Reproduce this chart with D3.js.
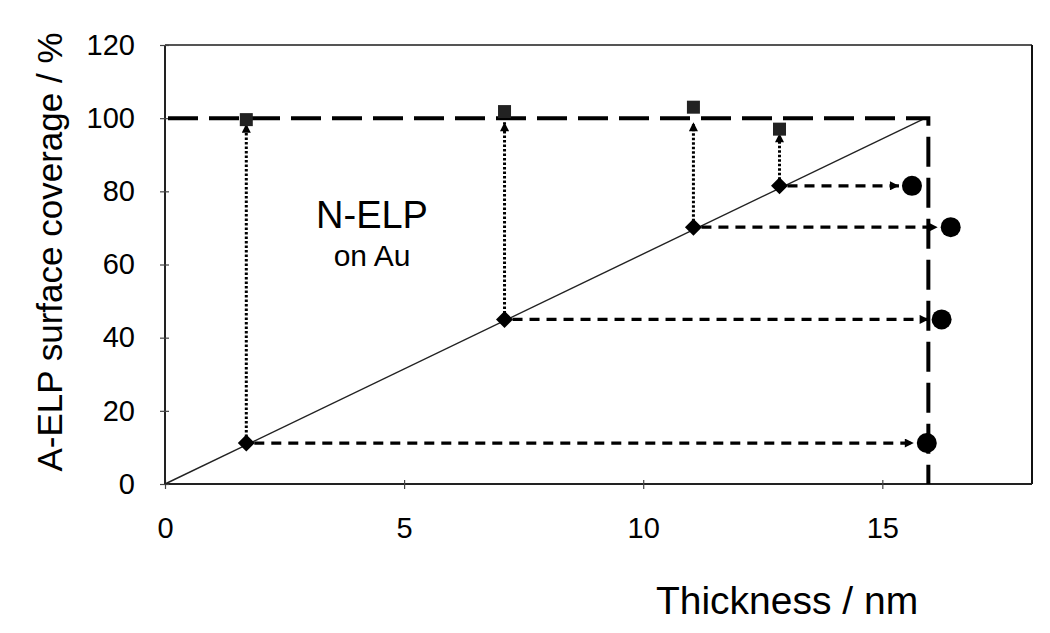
<!DOCTYPE html>
<html><head><meta charset="utf-8">
<script src="https://cdn.jsdelivr.net/npm/d3@7"></script>
<style>body{margin:0;background:#fff}svg{display:block}text{font-family:"Liberation Sans",Arial,sans-serif;fill:#000}</style>
</head><body><svg id="c" width="1050" height="633"></svg>
<script>
const xTicks = [0, 5, 10, 15];
const yTicks = [0, 20, 40, 60, 80, 100, 120];
const thickness = [1.7, 7.1, 11.05, 12.85];          // diamonds (x)
const nelpCoverage = [11.2, 45.0, 70.2, 81.5];       // diamonds (y)
const aelpCoverage = [99.6, 101.8, 103.0, 97.0];     // squares (y)
const circleThickness = [15.93, 16.24, 16.43, 15.62];// circles (x)
const fullThickness = 15.9;   // corner of dashed guide
const fullCoverage = 100;

const svg = d3.select('#c');
const m = {l:165, r:1032, t:45, b:484};
const x = d3.scaleLinear().domain([0, 18.13]).range([m.l, m.r]);
const y = d3.scaleLinear().domain([0, 120]).range([m.b, m.t]);

const defs = svg.append('defs');
defs.append('marker').attr('id','ah').attr('viewBox','0 0 10 10').attr('refX',10).attr('refY',5)
  .attr('markerWidth',10).attr('markerHeight',9).attr('markerUnits','userSpaceOnUse').attr('orient','auto')
  .append('path').attr('d','M0,0L10,5L0,10Z').attr('fill','#000');

// frame
svg.append('line').attr('x1',m.l).attr('x2',m.r).attr('y1',m.t).attr('y2',m.t).attr('stroke','#555').attr('stroke-width',2);
svg.append('line').attr('x1',m.r).attr('x2',m.r).attr('y1',m.t).attr('y2',m.b).attr('stroke','#111').attr('stroke-width',2);

// axes
const xa = svg.append('g').attr('transform',`translate(0,${m.b})`)
  .call(d3.axisBottom(x).tickValues(xTicks).tickSize(9).tickPadding(24).tickFormat(d3.format('d')));
xa.select('.domain').attr('d',`M${m.l},0H${m.r}`).attr('stroke','#222').attr('stroke-width',2);
const ya = svg.append('g').attr('transform',`translate(${m.l},0)`)
  .call(d3.axisLeft(y).tickValues(yTicks).tickSize(9).tickPadding(21).tickFormat(d3.format('d')));
ya.select('.domain').attr('d',`M0,${m.t}V${m.b}`).attr('stroke','#222').attr('stroke-width',2);
svg.selectAll('.tick line').attr('stroke','#444').attr('stroke-width',1.2);
svg.selectAll('.tick text').style('font-size','29px').style('font-family','Liberation Sans, Arial, sans-serif').attr('fill','#000');
xa.selectAll('.tick line').attr('transform','translate(0,-4)');
ya.selectAll('.tick line').attr('transform','translate(4,0)');

// diagonal line
svg.append('line').attr('x1',x(0)).attr('y1',y(0)).attr('x2',x(fullThickness)).attr('y2',y(fullCoverage))
  .attr('stroke','#222').attr('stroke-width',1.4);

// big dashed guide
svg.append('path').attr('d',`M${x(0)+3},${y(fullCoverage)}H${x(fullThickness)+3}V${y(0)}`)
  .attr('fill','none').attr('stroke','#000').attr('stroke-width',4).attr('stroke-dasharray','30,11');

// vertical dotted arrows
const idx = d3.range(thickness.length);
svg.selectAll('.va').data(idx).join('line')
  .attr('x1',i=>x(thickness[i])).attr('x2',i=>x(thickness[i]))
  .attr('y1',i=>y(nelpCoverage[i])-6).attr('y2',i=>Math.max(y(aelpCoverage[i]),y(fullCoverage))+4)
  .attr('stroke','#000').attr('stroke-width',3).attr('stroke-dasharray','2.5,2').attr('marker-end','url(#ah)');

// horizontal dashed arrows
svg.selectAll('.ha').data(idx).join('line')
  .attr('x1',i=>x(thickness[i])+8).attr('x2',i=>x(circleThickness[i])-13)
  .attr('y1',i=>y(nelpCoverage[i])).attr('y2',i=>y(nelpCoverage[i]))
  .attr('stroke','#000').attr('stroke-width',3.2).attr('stroke-dasharray','10,7').attr('marker-end','url(#ah)');

// squares
svg.selectAll('.sq').data(idx).join('rect')
  .attr('x',i=>x(thickness[i])-6.5).attr('y',i=>y(aelpCoverage[i])-6.5).attr('width',13).attr('height',13)
  .attr('fill','#222');
// diamonds
svg.selectAll('.dm').data(idx).join('path')
  .attr('d',i=>{const cx=x(thickness[i]),cy=y(nelpCoverage[i]),r=8.5;return `M${cx},${cy-r}L${cx+r},${cy}L${cx},${cy+r}L${cx-r},${cy}Z`;})
  .attr('fill','#000');
// circles
svg.selectAll('.ci').data(idx).join('circle')
  .attr('cx',i=>x(circleThickness[i])).attr('cy',i=>y(nelpCoverage[i])).attr('r',10).attr('fill','#000');

// labels
svg.append('text').attr('x',372).attr('y',228).attr('text-anchor','middle').style('font-size','38px').text('N-ELP');
svg.append('text').attr('x',372).attr('y',266).attr('text-anchor','middle').style('font-size','30px').text('on Au');
svg.append('text').attr('x',787).attr('y',614).attr('text-anchor','middle').style('font-size','39px').text('Thickness / nm');
svg.append('text').attr('transform','translate(62,252) rotate(-90)').attr('text-anchor','middle').style('font-size','35px').text('A-ELP surface coverage / %');
</script></body></html>
